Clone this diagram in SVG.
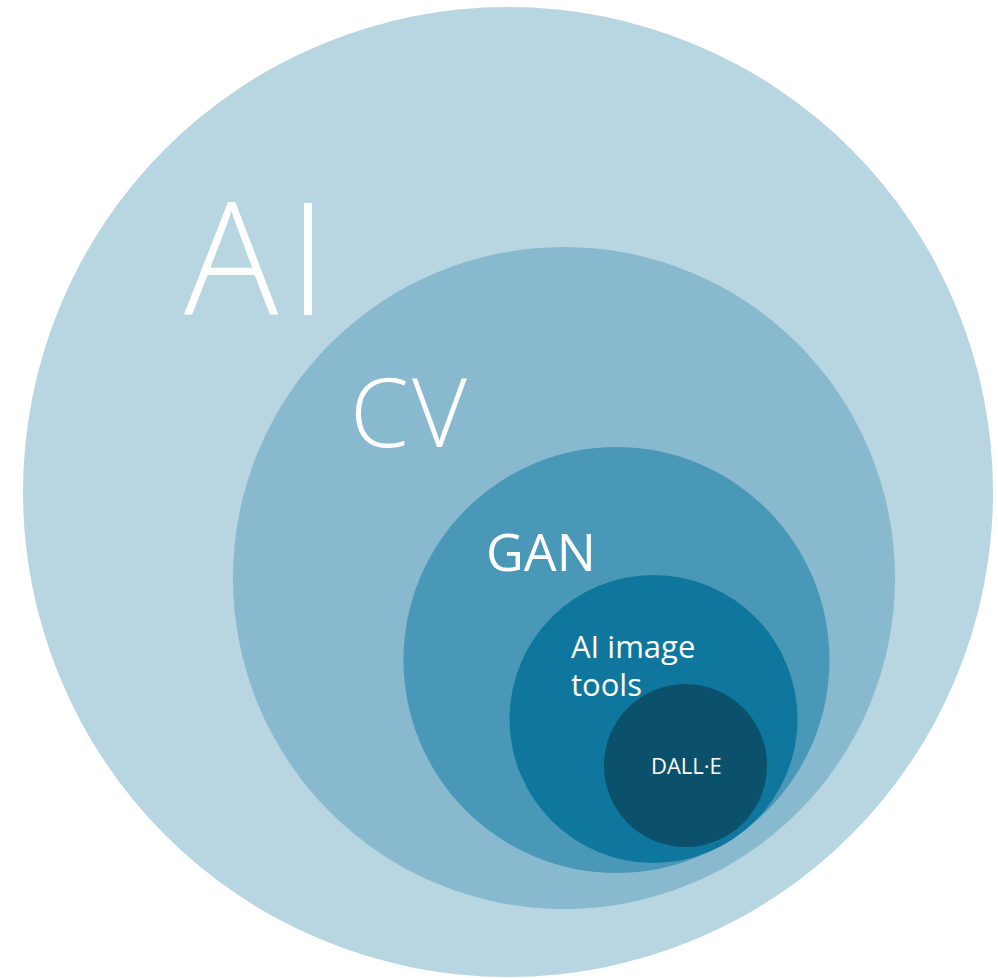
<svg xmlns="http://www.w3.org/2000/svg" width="998" height="978" viewBox="0 0 998 978">
<style>
text { font-family: "Open Sans", "Noto Sans", "Liberation Sans", sans-serif; fill: #ffffff; }
.light { font-weight: 300; }
</style>
<rect x="0" y="0" width="998" height="978" fill="#ffffff"/>
<g id="node-ai">
<circle cx="508" cy="492" r="485" fill="#B8D6E1"/>
<text class="light" x="184" y="315" font-size="157" letter-spacing="10">AI</text>
</g>
<g id="node-cv">
<circle cx="564" cy="578" r="331" fill="#88B9CF"/>
<text class="light" x="350" y="447" font-size="95" letter-spacing="3">CV</text>
</g>
<g id="node-gan">
<circle cx="616.5" cy="660" r="213" fill="#4A98B7"/>
<text x="486" y="571" font-size="52">GAN</text>
</g>
<g id="node-ai-image-tools">
<circle cx="653.5" cy="719" r="144" fill="#0F769D"/>
<text x="571" y="658" font-size="31"><tspan x="571" y="658">AI image</tspan><tspan x="571" y="696">tools</tspan></text>
</g>
<g id="node-dalle">
<circle cx="685.5" cy="765.5" r="81.5" fill="#0B516C"/>
<text x="651" y="774" font-size="22">DALL·E</text>
</g>
<g id="connectors"></g>
</svg>
